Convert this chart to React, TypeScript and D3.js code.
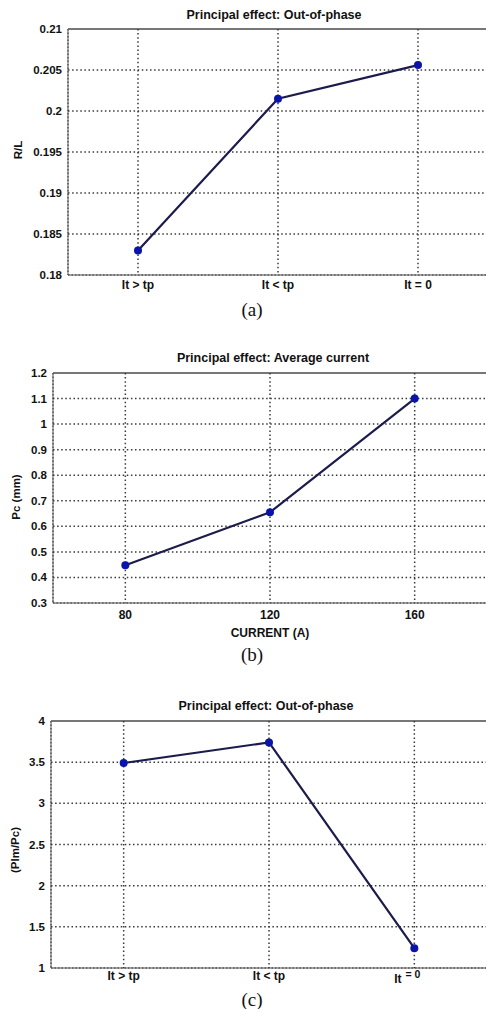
import React from "react";
import * as d3 from "d3";

const phaseCategories = ["It > tp", "It < tp", "It = 0"];
const rlValues = [0.183, 0.2015, 0.2056];
const rlTicks = [0.18, 0.185, 0.19, 0.195, 0.2, 0.205, 0.21];

const currentValues = [80, 120, 160];
const pcValues = [0.448, 0.655, 1.1];
const pcTicks = [0.3, 0.4, 0.5, 0.6, 0.7, 0.8, 0.9, 1, 1.1, 1.2];

const ratioValues = [3.49, 3.74, 1.24];
const ratioTicks = [1, 1.5, 2, 2.5, 3, 3.5, 4];

const FONT = "'Liberation Sans', Arial, sans-serif";
const SERIF = "'Liberation Serif', 'Times New Roman', serif";
const GRID = "#3a3a3a";
const LINE = "#1c1c4c";
const DOT = "#0a14a8";
const TXT = "#111";

type PanelProps = {
  left: number; top: number; right: number; bottom: number;
  x: (v: any) => number;
  xTicks: any[];
  xLabels: string[];
  values: number[];
  xs: any[];
  yDomain: [number, number];
  yTicks: number[];
  title: string; titleX: number; titleY: number;
  yLabel: string; yLabelX: number; yLabelY: number;
  xLabelY: number;
  superLast?: boolean;
};

function Panel(p: PanelProps) {
  const y = d3.scaleLinear().domain(p.yDomain).range([p.bottom, p.top]);
  const line = d3.line<number>().x((_, i) => p.x(p.xs[i])).y((d) => y(d));
  return (
    <g>
      <text x={p.titleX} y={p.titleY} textAnchor="middle" fontFamily={FONT} fontWeight="bold" fontSize={12.5} fill={TXT}>{p.title}</text>
      {/* frame */}
      <line x1={p.left} x2={p.right} y1={p.top} y2={p.top} stroke="#777" strokeWidth={1.8} />
      <line x1={p.left} x2={p.left} y1={p.top} y2={p.bottom} stroke="#999" strokeWidth={1.6} />
      <line x1={p.left} x2={p.left} y1={p.top} y2={p.bottom} stroke="#444" strokeWidth={1.2} strokeDasharray="1.5,2" />
      <line x1={p.left} x2={p.right} y1={p.bottom} y2={p.bottom} stroke="#888" strokeWidth={1.6} />
      <line x1={p.left} x2={p.right} y1={p.bottom} y2={p.bottom} stroke="#333" strokeWidth={1.2} strokeDasharray="1.5,2" />
      {/* grid */}
      {p.yTicks.map((t, i) => (
        <g key={"y" + i}>
          {i > 0 && i < p.yTicks.length - 1 && (
            <line x1={p.left} x2={p.right} y1={y(t)} y2={y(t)} stroke={GRID} strokeWidth={1.5} strokeDasharray="1.5,2.6" />
          )}
          <text x={p.left - 6} y={y(t) + 4} textAnchor="end" fontFamily={FONT} fontWeight="bold" fontSize={11.5} fill={TXT}>{String(t)}</text>
        </g>
      ))}
      {p.xTicks.map((t, i) => (
        <g key={"x" + i}>
          <line x1={p.x(t)} x2={p.x(t)} y1={p.top} y2={p.bottom} stroke={GRID} strokeWidth={1.5} strokeDasharray="1.5,2.6" />
          {p.superLast && i === p.xTicks.length - 1 ? (
            <text x={p.x(t) - 7} y={p.xLabelY + 3} textAnchor="middle" fontFamily={FONT} fontWeight="bold" fontSize={12} fill={TXT}>
              <tspan>It</tspan>
              <tspan dx={4} dy={-5} fontSize={10.5}>= 0</tspan>
            </text>
          ) : (
            <text x={p.x(t)} y={p.xLabelY} textAnchor="middle" fontFamily={FONT} fontWeight="bold" fontSize={12} fill={TXT}>{p.xLabels[i]}</text>
          )}
        </g>
      ))}
      <text transform={`translate(${p.yLabelX},${p.yLabelY}) rotate(-90)`} textAnchor="middle" fontFamily={FONT} fontWeight="bold" fontSize={11.5} fill={TXT}>{p.yLabel}</text>
      <path d={line(p.values) || ""} fill="none" stroke={LINE} strokeWidth={2.2} />
      {p.values.map((v, i) => (
        <circle key={i} cx={p.x(p.xs[i])} cy={y(v)} r={4} fill={DOT} />
      ))}
    </g>
  );
}

export default function App() {
  const xa = d3.scalePoint<string>().domain(phaseCategories).range([68, 488]).padding(0.5);
  const xb = d3.scaleLinear().domain([60, 180]).range([53, 487]);
  const xc = d3.scalePoint<string>().domain(phaseCategories).range([51, 487]).padding(0.5);
  return (
    <svg width={486} height={1009} style={{ position: "absolute", left: 0, top: 0, background: "#fff" }}>
      <rect width={486} height={1009} fill="#fff" />
      <Panel left={68} top={29} right={488} bottom={275}
        x={(v) => xa(v) as number} xTicks={phaseCategories} xLabels={phaseCategories}
        values={rlValues} xs={phaseCategories} yDomain={[0.18, 0.21]} yTicks={rlTicks}
        title="Principal effect:  Out-of-phase" titleX={274} titleY={19}
        yLabel="R/L" yLabelX={22} yLabelY={150} xLabelY={289} />
      <text x={252} y={316} textAnchor="middle" fontFamily={SERIF} fontSize={19} fill="#111">(a)</text>

      <Panel left={53} top={373} right={487} bottom={603}
        x={(v) => xb(v)} xTicks={currentValues} xLabels={currentValues.map(String)}
        values={pcValues} xs={currentValues} yDomain={[0.3, 1.2]} yTicks={pcTicks}
        title="Principal effect: Average current" titleX={273} titleY={362}
        yLabel="Pc (mm)" yLabelX={20} yLabelY={497} xLabelY={619} />
      <text x={270} y={637} textAnchor="middle" fontFamily={FONT} fontWeight="bold" fontSize={12} fill={TXT}>CURRENT (A)</text>
      <text x={252} y={661} textAnchor="middle" fontFamily={SERIF} fontSize={19} fill="#111">(b)</text>

      <Panel left={51} top={721} right={487} bottom={968}
        x={(v) => xc(v) as number} xTicks={phaseCategories} xLabels={phaseCategories}
        values={ratioValues} xs={phaseCategories} yDomain={[1, 4]} yTicks={ratioTicks}
        title="Principal effect:  Out-of-phase" titleX={266} titleY={710}
        yLabel="(Plm/Pc)" yLabelX={19} yLabelY={850} xLabelY={980} superLast />
      <text x={252} y={1006} textAnchor="middle" fontFamily={SERIF} fontSize={19} fill="#111">(c)</text>
    </svg>
  );
}
